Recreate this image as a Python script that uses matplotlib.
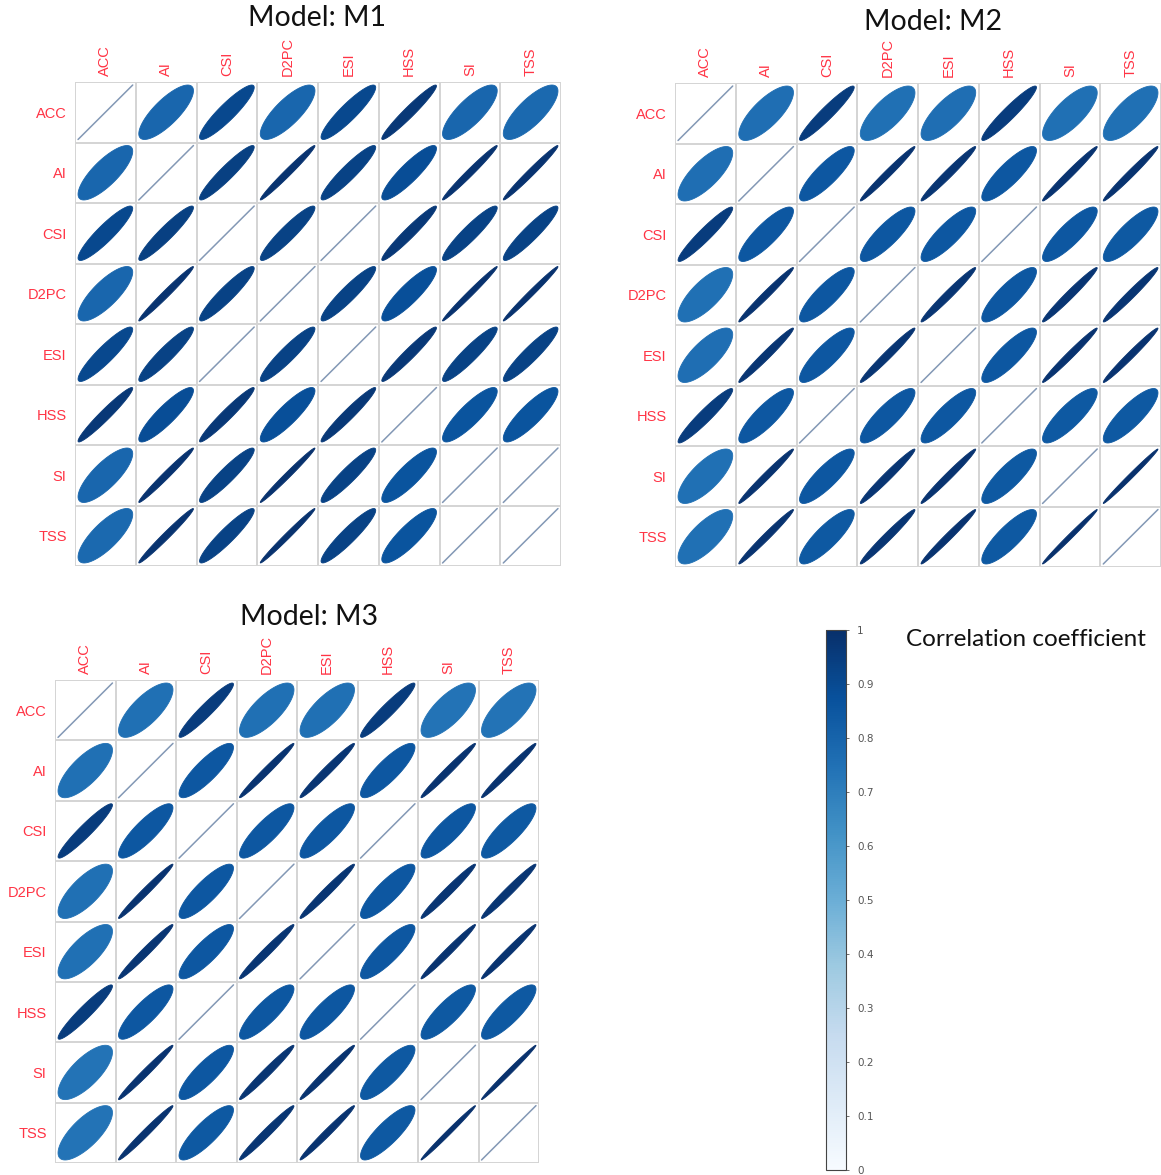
import numpy as np
import matplotlib
matplotlib.use("Agg")
import matplotlib.pyplot as plt
from matplotlib.patches import Polygon
from matplotlib.cm import ScalarMappable
from matplotlib.colors import Normalize

# metric names (rows / columns of every matrix)
metrics = ["ACC", "AI", "CSI", "D2PC", "ESI", "HSS", "SI", "TSS"]

# lower triangles of the correlation matrices (row i holds columns 0..i-1)
m1_lower = [
    [],
    [0.79],
    [0.91, 0.94],
    [0.79, 0.985, 0.93],
    [0.91, 0.93, 1.00, 0.93],
    [0.965, 0.89, 0.965, 0.88, 0.965],
    [0.79, 0.985, 0.93, 0.99, 0.93, 0.86],
    [0.78, 0.985, 0.93, 0.99, 0.93, 0.86, 1.00],
]
m2_lower = [
    [],
    [0.76],
    [0.95, 0.85],
    [0.75, 0.985, 0.85],
    [0.76, 0.98, 0.85, 0.98],
    [0.95, 0.85, 1.00, 0.85, 0.85],
    [0.75, 0.985, 0.85, 0.98, 0.985, 0.84],
    [0.75, 0.985, 0.84, 0.98, 0.985, 0.84, 0.993],
]
m3_lower = [
    [],
    [0.75],
    [0.95, 0.85],
    [0.75, 0.985, 0.85],
    [0.75, 0.98, 0.85, 0.98],
    [0.95, 0.85, 1.00, 0.85, 0.85],
    [0.74, 0.985, 0.85, 0.98, 0.985, 0.84],
    [0.74, 0.985, 0.84, 0.98, 0.985, 0.84, 0.993],
]
model_names = ["M1", "M2", "M3"]
cbar_ticks = [0, 0.1, 0.2, 0.3, 0.4, 0.5, 0.6, 0.7, 0.8, 0.9, 1]

W, H = 1161, 1175
cmap = plt.get_cmap("Blues")
norm = Normalize(0, 1)
label_red = "#ff3344"
grid_col = "#d4d4d4"


def full_matrix(lower):
    n = len(metrics)
    m = np.eye(n)
    for i, row in enumerate(lower):
        for j, v in enumerate(row):
            m[i, j] = v
            m[j, i] = v
    return m


def box(x0, y0, x1, y1):
    # pixel box -> figure fraction
    return [x0 / W, 1 - y1 / H, (x1 - x0) / W, (y1 - y0) / H]


def draw_corr(ax, mat, title, title_xy):
    n = len(metrics)
    t = np.linspace(0, 2 * np.pi, 120)
    for i in range(n):
        for j in range(n):
            r = mat[i, j]
            cx, cy = j + 0.5, i + 0.5
            if r >= 0.999:
                ax.plot([cx - 0.45, cx + 0.45], [cy + 0.45, cy - 0.45],
                        color="#8398b5", lw=1.1, solid_capstyle="round", zorder=2)
                continue
            d = np.arccos(r)
            x = np.cos(t + d / 2) * 0.45
            y = np.cos(t - d / 2) * 0.45
            pts = np.column_stack([cx + x, cy - y])
            c = cmap(norm(r))
            ax.add_patch(Polygon(pts, closed=True, facecolor=c, edgecolor=c,
                                 lw=0.6, zorder=2))
    for k in range(n + 1):
        ax.axhline(k, color=grid_col, lw=1.4, zorder=1)
        ax.axvline(k, color=grid_col, lw=1.4, zorder=1)
    ax.set_xlim(0, n)
    ax.set_ylim(n, 0)
    for s in ax.spines.values():
        s.set_visible(False)
    ax.set_xticks(np.arange(n) + 0.5)
    ax.set_xticklabels(metrics, rotation=90, color=label_red,
                       fontsize=10.5, family="Liberation Sans")
    ax.xaxis.tick_top()
    ax.set_yticks(np.arange(n) + 0.5)
    ax.set_yticklabels(metrics, color=label_red, fontsize=10.5,
                       family="Liberation Sans")
    ax.tick_params(axis="x", length=0, pad=4)
    ax.tick_params(axis="y", length=0, pad=6)
    fig.text(title_xy[0] / W, 1 - title_xy[1] / H, title, ha="center",
             va="center", fontsize=20.5, family="Lato", color="#111111")


fig = plt.figure(figsize=(W / 100, H / 100), dpi=100)

mats = [full_matrix(m1_lower), full_matrix(m2_lower), full_matrix(m3_lower)]
ax1 = fig.add_axes(box(75, 82, 561, 566))
ax2 = fig.add_axes(box(675, 83, 1161, 567))
ax3 = fig.add_axes(box(55, 680, 539, 1163))

draw_corr(ax1, mats[0], "Model: " + model_names[0], (317, 18))
draw_corr(ax2, mats[1], "Model: " + model_names[1], (933, 22))
draw_corr(ax3, mats[2], "Model: " + model_names[2], (309, 617))

# colour bar
cax = fig.add_axes(box(826, 630, 846, 1170))
cb = fig.colorbar(ScalarMappable(norm=norm, cmap=cmap), cax=cax)
cb.set_ticks(cbar_ticks)
cb.set_ticklabels([f"{v:g}" for v in cbar_ticks])
cb.outline.set_edgecolor("#444444")
cb.outline.set_linewidth(0.8)
cax.tick_params(labelsize=7.5, colors="#555555", length=2, width=0.6, pad=6)
fig.text(906 / W, 1 - 640 / H, "Correlation coefficient", ha="left",
         va="center", fontsize=17.5, family="Lato", color="#111111")

fig.savefig("out.png", dpi=100)
